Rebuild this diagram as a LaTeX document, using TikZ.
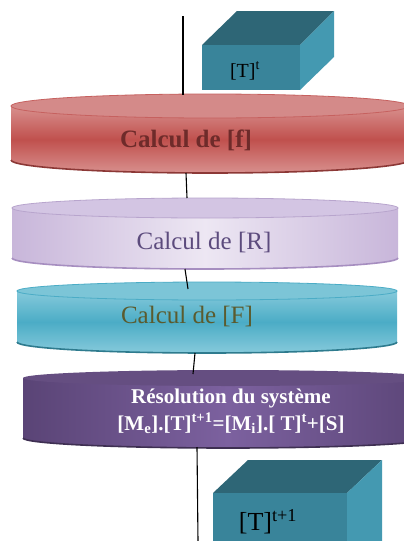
\documentclass[tikz,border=0pt]{standalone}
\usepackage{fontspec}
\setmainfont{Liberation Serif}
\definecolor{redside}{HTML}{C0504D}
\definecolor{redlight}{HTML}{D8908E}
\definecolor{redtop}{HTML}{D48A89}
\definecolor{redrim}{HTML}{8C3836}
\definecolor{redtext}{HTML}{6E2B2A}
\definecolor{lavmid}{HTML}{EDE7F3}
\definecolor{lavedge}{HTML}{C8B6DA}
\definecolor{lavtop}{HTML}{D3C5E3}
\definecolor{lavrim}{HTML}{A68EC0}
\definecolor{lavtext}{HTML}{5C4B7D}
\definecolor{cyanside}{HTML}{4BACC6}
\definecolor{cyanlight}{HTML}{86CADB}
\definecolor{cyantop}{HTML}{7CC5D7}
\definecolor{cyanrim}{HTML}{2E7B8E}
\definecolor{olivetext}{HTML}{5B5B2E}
\definecolor{purpside}{HTML}{5A4476}
\definecolor{purpmid}{HTML}{7C619F}
\definecolor{purptop}{HTML}{654E81}
\definecolor{purprim}{HTML}{3E2F52}
\definecolor{boxfront}{HTML}{39849A}
\definecolor{boxtop}{HTML}{2E6676}
\definecolor{boxright}{HTML}{4499B1}
% a flat cylinder: #1 cx, #2 top y, #3 bottom y, #4 x radius,
% #5 top y radius, #6 bottom y radius, #7 side style, #8 top style, #9 rim colour
\newcommand\drawdisc[9]{%
  \path[#7] ({#1-#4},#2) -- ({#1-#4},#3)
    arc[start angle=180,end angle=0,x radius=#4,y radius=#6] -- ({#1+#4},#2) -- cycle;
  \draw[#9,line width=1.6pt] ({#1-#4},#3)
    arc[start angle=180,end angle=0,x radius=#4,y radius=#6];
  \path[#8] (#1,#2) ellipse[x radius=#4,y radius=#5];
}
\begin{document}
\begin{tikzpicture}[x=1pt,y=-1pt,
  link/.style={draw=black,line width=1.1pt},
  label/.style={inner sep=0pt,anchor=center}]
\useasboundingbox (0,0) rectangle (404,541);
\clip (0,0) rectangle (404,541);
\fill[white] (0,0) rectangle (404,541);

% input block [T]^t
\fill[boxtop] (202,45) -- (237,11) -- (334,11) -- (300,45) -- cycle;
\fill[boxright] (300,45) -- (334,11) -- (334,57) -- (300,90) -- cycle;
\fill[boxfront] (202,45) rectangle (300,90);
\node[label,font=\fontsize{20}{22}\selectfont] (Tt) at (245,71) {[T]\textsuperscript{t}};

% computing stages
\drawdisc{210}{106}{160}{199}{12}{13}
  {top color=redlight,bottom color=redlight,middle color=redside}
  {fill=redtop,draw=redside!90,line width=0.8pt}{redrim}
\node[label,font=\bfseries\fontsize{25}{28}\selectfont,text=redtext] (sf) at (186,140) {Calcul de [f]};

\drawdisc{205}{208}{258}{193}{10}{11}
  {left color=lavedge,right color=lavedge,middle color=lavmid}
  {fill=lavtop,draw=lavrim!80,line width=0.8pt}{lavrim}
\node[label,font=\fontsize{25}{28}\selectfont,text=lavtext] (sR) at (204,242) {Calcul de [R]};

\drawdisc{207}{291}{342}{190}{9}{11}
  {top color=cyanlight,bottom color=cyanlight,middle color=cyanside}
  {fill=cyantop,draw=cyanside,line width=0.8pt}{cyanrim}
\node[label,font=\fontsize{25}{28}\selectfont,text=olivetext] (sF) at (187,316) {Calcul de [F]};

\drawdisc{228}{378}{438}{205}{8}{10}
  {left color=purpside,right color=purpside,middle color=purpmid}
  {fill=purptop}{purprim}
\node[label,font=\bfseries\fontsize{21}{27}\selectfont,text=white,align=center] (sS) at (231,411)
  {Résolution du système\\
   {[}M\textsubscript{e}].[T]\textsuperscript{t+1}=[M\textsubscript{i}].[ T]\textsuperscript{t}+[S]};

% output block [T]^{t+1}
\fill[boxtop] (213,493) -- (248,460) -- (382,460) -- (347,493) -- cycle;
\fill[boxright] (347,493) -- (382,460) -- (382,560) -- (347,560) -- cycle;
\fill[boxfront] (213,493) rectangle (347,560);
\node[label,font=\fontsize{26}{28}\selectfont] (Tn) at (268,522) {[T]\textsuperscript{t+1}};

% flow line through the stages
\coordinate (in) at (183,16);  \coordinate (fT) at (183,95);
\coordinate (fB) at (186,173); \coordinate (rT) at (187,198);
\coordinate (rB) at (185,269); \coordinate (FT) at (188,289);
\coordinate (FB) at (195,353); \coordinate (sT) at (193,374);
\coordinate (sB) at (197,447); \coordinate (out) at (198,541);
\draw[link] (in) -- (fT);
\draw[link] (fB) -- (rT);
\draw[link] (rB) -- (FT);
\draw[link] (FB) -- (sT);
\draw[link] (sB) -- (out);
\end{tikzpicture}
\end{document}
